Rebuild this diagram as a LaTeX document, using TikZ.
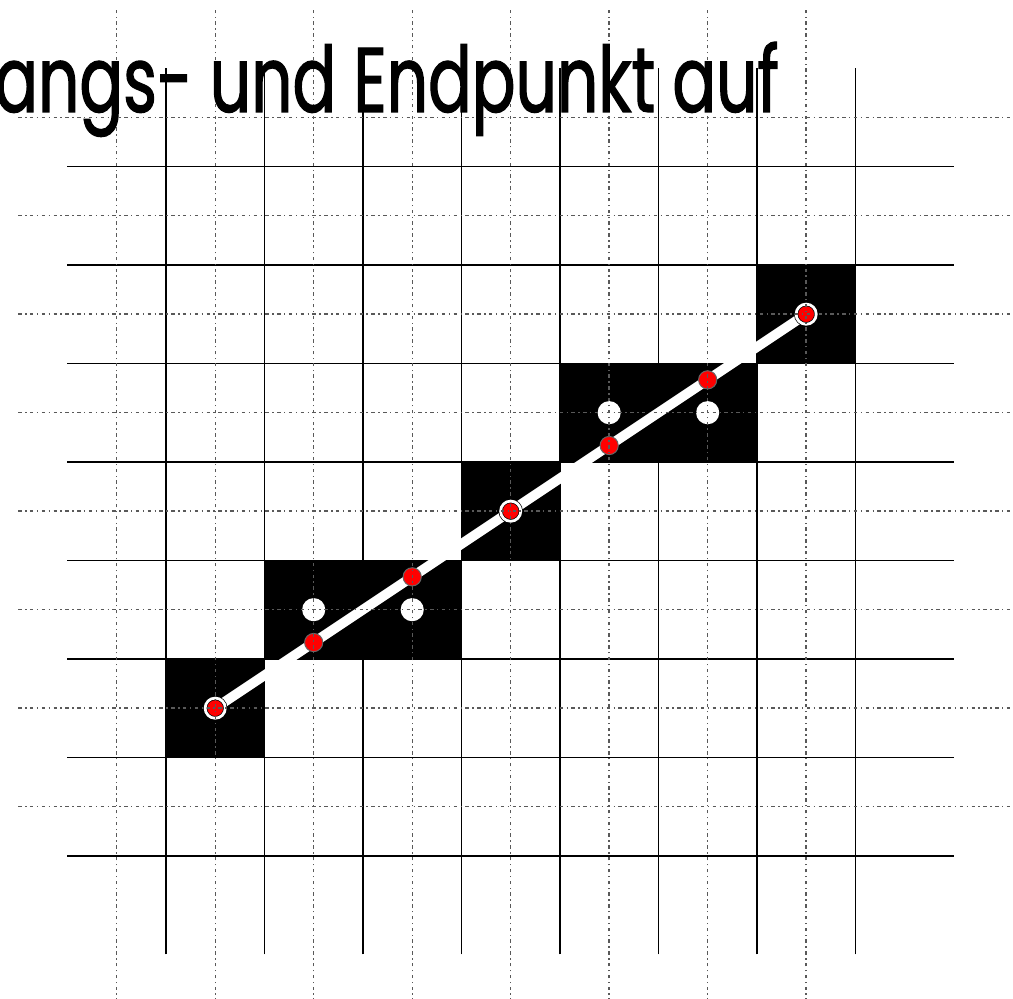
\documentclass[tikz,border=0pt]{standalone}
\usepackage{fontspec}
\usetikzlibrary{positioning,calc}
\newfontfamily\titlefont[FakeStretch=0.705,FakeBold=1.3]{Poppins}
\definecolor{Dot}{HTML}{FF0000}
\tikzset{
 gridline/.style={draw=black,line width=0.35pt},
 dotline/.style={draw=black!65,line width=0.4pt,dash pattern=on 1pt off 1pt on 0.4pt off 1pt},
 cellbox/.style={fill=black},
 track/.style={draw=white,line width=2.8pt},
 endpt/.style={circle,inner sep=0pt,minimum size=2.05mm,fill=Dot,draw=black,line width=0.07mm,double=white,double distance=0.28mm},
 midpt/.style={circle,inner sep=0pt,minimum size=1.85mm,fill=Dot,draw=black!60,line width=0.1mm},
 holept/.style={circle,inner sep=0pt,minimum size=2.35mm,fill=white},
 heading/.style={font=\titlefont\fontsize{26.5}{31}\selectfont,inner sep=0pt,anchor=base east}
}
\begin{document}
\begin{tikzpicture}
\useasboundingbox (-1.685,-1.452) rectangle (8.6,8.69);
% raster
\foreach \i in {0,...,7} {
 \draw[gridline] (\i,-1) -- (\i,8);
 \draw[gridline] (-1,\i) -- (8,\i);
}
% gesetzte Pixel
\fill[cellbox] (0,1) rectangle (1,2);
\fill[cellbox] (1,2) rectangle (3,3);
\fill[cellbox] (3,3) rectangle (4,4);
\fill[cellbox] (4,4) rectangle (6,5);
\fill[cellbox] (6,5) rectangle (7,6);
% Linie
\coordinate (start) at (0.5,1.5);
\coordinate (ende) at (6.5,5.5);
\draw[track] (start) -- (ende);
\foreach \x/\y [count=\n] in {1.5/2.5,2.5/2.5,4.5/4.5,5.5/4.5}
 \node[holept] (h\n) at (\x,\y) {};
\foreach \x [count=\n] in {1.5,2.5,4.5,5.5}
 \node[midpt] (m\n) at ($(start)!{(\x-0.5)/6}!(ende)$) {};
\node[endpt] (p0) at (start) {};
\node[endpt] (pm) at (3.5,3.5) {};
\node[endpt] (p1) at (ende) {};
% Pixelmitten
\foreach \i in {0,...,7} {
 \draw[dotline] (\i-0.5,-1.6) -- (\i-0.5,8.62);
 \draw[dotline] (-1.5,\i+0.5) -- (8.7,\i+0.5);
}
\node[heading] (titel) at (6.23,7.553) {angs- und Endpunkt auf};
\end{tikzpicture}
\end{document}
